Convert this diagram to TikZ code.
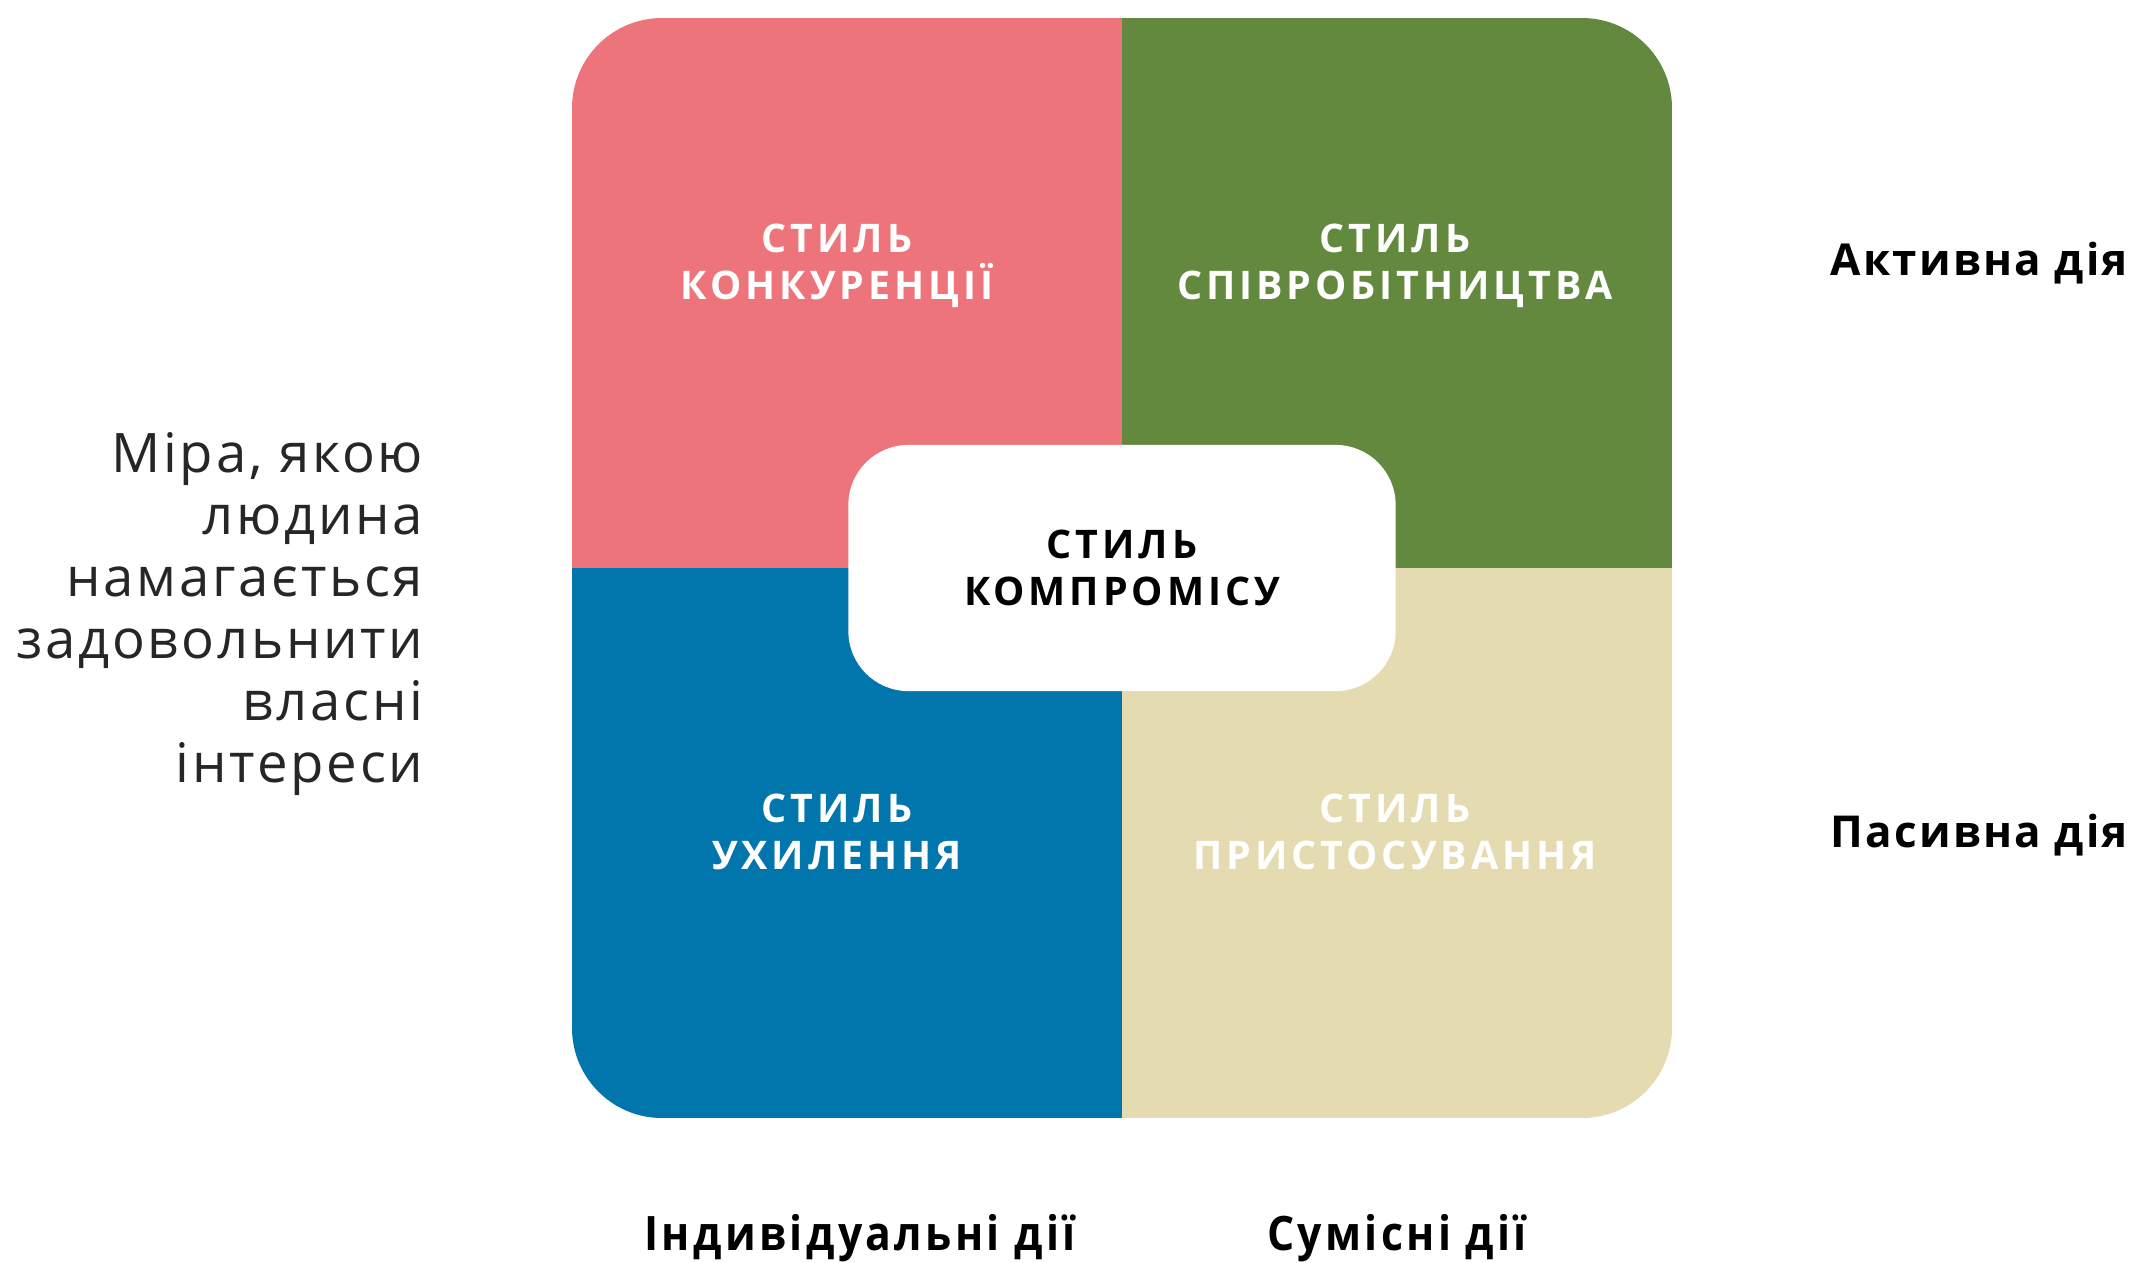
\documentclass[tikz,border=0pt]{standalone}
\usepackage{fontspec}
\setmainfont{Open Sans}
\newfontfamily\quadfont[LetterSpace=10]{Open Sans}
\newfontfamily\sidefont[LetterSpace=5]{Open Sans}
\newfontfamily\axisfont[LetterSpace=5]{Open Sans}
\newfontfamily\condfont[FakeStretch=0.9,LetterSpace=7]{Open Sans}

\definecolor{konkcol}{RGB}{236,116,122}
\definecolor{spivcol}{RGB}{99,137,62}
\definecolor{ukhcol}{RGB}{0,118,172}
\definecolor{pryscol}{RGB}{229,219,176}

\begin{document}
\begin{tikzpicture}[x=0.01cm, y=-0.01cm,
  quad/.style={font=\quadfont\bfseries\fontsize{11.2}{13.2}\selectfont, text=white, align=center},
  axislabel/.style={font=\axisfont\bfseries\fontsize{12.5}{14}\selectfont, text=black, inner sep=0pt},
  bottomlabel/.style={font=\condfont\bfseries\fontsize{13.5}{16}\selectfont, text=black}]
  \useasboundingbox (0,0) rectangle (2145,1262);

  % Квадранти
  \begin{scope}
    \clip[rounded corners=0.9cm] (572,18) rectangle (1672,1118);
    \fill[konkcol] (572,18) rectangle (1122,568);
    \fill[spivcol] (1122,18) rectangle (1672,568);
    \fill[ukhcol] (572,568) rectangle (1122,1118);
    \fill[pryscol] (1122,568) rectangle (1672,1118);
  \end{scope}

  % Назви стилів
  \node[quad] (konk) at (837,266) {СТИЛЬ\\КОНКУРЕНЦІЇ};
  \node[quad] (spiv) at (1395,266) {СТИЛЬ\\СПІВРОБІТНИЦТВА};
  \node[quad] (ukh) at (837,832) {СТИЛЬ\\УХИЛЕННЯ};
  \node[quad] (prys) at (1395,832) {СТИЛЬ\\ПРИСТОСУВАННЯ};

  % Компроміс у центрі
  \node[quad, text=black, fill=white, rounded corners=0.6cm,
    minimum width=5.47cm, minimum height=2.46cm] (komp) at (1122,568) {СТИЛЬ\\КОМПРОМІСУ};

  % Вісь ліворуч
  \node[anchor=east, align=right, text=black!85, inner sep=0pt,
    font=\sidefont\fontsize{15.5}{17.6}\selectfont] (vlasni) at (424,614)
    {Міра, якою\\людина\\намагається\\задовольнити\\власні\\інтереси};

  % Підписи праворуч
  \node[axislabel, anchor=west] (aktyvna) at (1830,263) {Активна дія};
  \node[axislabel, anchor=west] (pasyvna) at (1830,835) {Пасивна дія};

  % Підписи знизу
  \node[bottomlabel] (indyv) at (860,1238) {Індивідуальні дії};
  \node[bottomlabel] (sumisni) at (1397,1238) {Сумісні дії};
\end{tikzpicture}
\end{document}
